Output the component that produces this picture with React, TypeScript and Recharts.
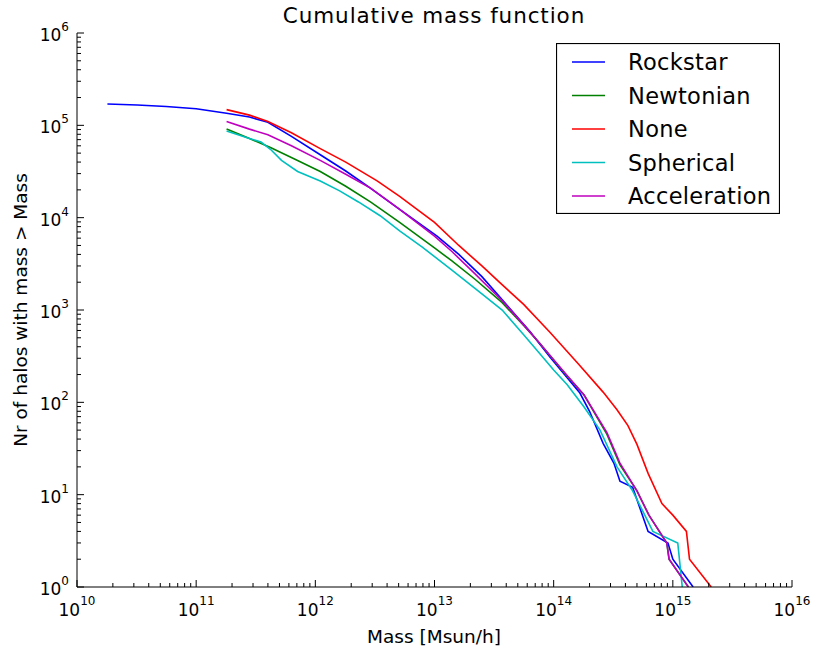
import { LineChart, Line, XAxis, YAxis, Legend } from "recharts";

const FONT = "'DejaVu Sans', sans-serif";

// axis decades (major ticks), minor ticks are 2..9 times each decade
const xDecades = [1e10, 1e11, 1e12, 1e13, 1e14, 1e15, 1e16];
const yDecades = [1, 10, 100, 1000, 10000, 100000, 1000000];
const minorSteps = [2, 3, 4, 5, 6, 7, 8, 9];

// Rockstar
const rockstarMass = [1.8e10, 3.2e10, 5.6e10, 1.0e11, 1.8e11, 2.8e11, 4.0e11, 6.3e11, 1.1e12, 1.8e12, 2.9e12, 5.1e12, 1.05e13, 1.6e13, 2.5e13, 3.7e13, 6.3e13, 9.3e13, 1.66e14, 2.0e14, 2.6e14, 3.2e14, 3.6e14, 4.6e14, 6.2e14, 9.1e14, 1.0e15, 1.48e15];
const rockstarCount = [170000, 166000, 160000, 151000, 135000, 123000, 108000, 76000, 48000, 32000, 20900, 12300, 6300, 4000, 2300, 1290, 590, 310, 126, 80, 36, 22, 14, 12, 4, 3, 2, 1];

// Newtonian
const newtonianMass = [1.8e11, 2.8e11, 4.2e11, 7.1e11, 1.1e12, 1.8e12, 2.9e12, 5.1e12, 1.0e13, 1.4e13, 2.2e13, 3.7e13, 5.6e13, 7.6e13, 1.26e14, 1.8e14, 2.8e14, 3.6e14, 5.0e14, 6.3e14, 8.9e14, 9.3e14, 1.35e15];
const newtonianCount = [91000, 72000, 57500, 41700, 31600, 21900, 14800, 8900, 4700, 3400, 2140, 1200, 680, 440, 200, 120, 45, 21, 11, 6, 3, 2, 1];

// None
const noneMass = [1.8e11, 2.8e11, 4.0e11, 6.3e11, 1.1e12, 1.8e12, 3.3e12, 5.1e12, 1.0e13, 1.6e13, 2.5e13, 3.5e13, 5.6e13, 9.3e13, 1.6e14, 2.6e14, 3.4e14, 4.2e14, 5.0e14, 6.2e14, 8.1e14, 1.0e15, 1.3e15, 1.38e15, 2.1e15];
const noneCount = [148000, 129000, 110000, 83000, 56000, 40000, 25000, 17000, 8900, 5000, 3000, 2000, 1150, 575, 263, 129, 83, 56, 35, 17, 8, 6, 4, 2, 1];

// Spherical
const sphericalMass = [1.8e11, 2.8e11, 3.5e11, 4.2e11, 5.2e11, 7.1e11, 1.1e12, 1.6e12, 2.3e12, 3.5e12, 5.1e12, 7.9e12, 1.4e13, 2.2e13, 3.7e13, 5.6e13, 7.6e13, 1.0e14, 1.3e14, 1.8e14, 2.45e14, 3.4e14, 4.6e14, 6.8e14, 1.1e15, 1.2e15];
const sphericalCount = [87000, 72000, 66000, 55000, 41700, 31600, 25000, 19500, 14800, 10500, 7200, 4800, 2700, 1700, 1000, 540, 340, 224, 155, 89, 50, 20, 11, 4, 3, 1];

// Acceleration
const accelerationMass = [1.8e11, 2.8e11, 4.0e11, 6.3e11, 1.1e12, 1.8e12, 2.9e12, 5.1e12, 1.0e13, 1.4e13, 2.2e13, 3.7e13, 5.6e13, 7.6e13, 1.26e14, 1.8e14, 2.8e14, 3.6e14, 5.0e14, 6.3e14, 8.9e14, 9.3e14, 1.35e15];
const accelerationCount = [110000, 91000, 79000, 60000, 41700, 29500, 20900, 12300, 6300, 4300, 2450, 1260, 690, 440, 204, 120, 47, 22, 11, 6, 3, 2, 1];

const toPoints = (mass: number[], count: number[]) =>
  mass.map((m, i) => ({ mass: m, count: count[i] }));

const series = [
  { name: "Rockstar", color: "#0000ff", data: toPoints(rockstarMass, rockstarCount) },
  { name: "Newtonian", color: "#008000", data: toPoints(newtonianMass, newtonianCount) },
  { name: "None", color: "#ff0000", data: toPoints(noneMass, noneCount) },
  { name: "Spherical", color: "#00bfbf", data: toPoints(sphericalMass, sphericalCount) },
  { name: "Acceleration", color: "#bf00bf", data: toPoints(accelerationMass, accelerationCount) },
];

const withMinor = (decades: number[]) => {
  const out: number[] = [];
  decades.forEach((d, i) => {
    out.push(d);
    if (i < decades.length - 1) minorSteps.forEach((k) => out.push(d * k));
  });
  return out;
};

const xTicks = withMinor(xDecades);
const yTicks = withMinor(yDecades);

const isMajor = (v: number) => {
  const l = Math.log10(v);
  return Math.abs(l - Math.round(l)) < 1e-9;
};
const expOf = (v: number) => Math.round(Math.log10(v));

const BottomTick = ({ x, y, payload }: any) => {
  const major = isMajor(payload.value);
  return (
    <g>
      <line x1={x} x2={x} y1={y} y2={y - (major ? 7 : 4)} stroke="#000" />
      {major && (
        <text x={x} y={y + 29} textAnchor="middle" fontSize={17} fontFamily={FONT} fill="#000">
          10<tspan dy={-11} fontSize={12}>{expOf(payload.value)}</tspan>
        </text>
      )}
    </g>
  );
};

const TopTick = ({ x, y, payload }: any) => {
  const major = isMajor(payload.value);
  return <line x1={x} x2={x} y1={y} y2={y + (major ? 7 : 4)} stroke="#000" />;
};

const LeftTick = ({ x, y, payload }: any) => {
  const major = isMajor(payload.value);
  return (
    <g>
      <line x1={x} x2={x + (major ? 7 : 4)} y1={y} y2={y} stroke="#000" />
      {major && (
        <text x={x - 8} y={y + 8} textAnchor="end" fontSize={17} fontFamily={FONT} fill="#000">
          10<tspan dy={-10} fontSize={12}>{expOf(payload.value)}</tspan>
        </text>
      )}
    </g>
  );
};

const RightTick = ({ x, y, payload }: any) => {
  const major = isMajor(payload.value);
  return <line x1={x} x2={x - (major ? 7 : 4)} y1={y} y2={y} stroke="#000" />;
};

const LegendBox = () => (
  <svg width={224} height={171} style={{ display: "block" }}>
    <rect x={0.5} y={0.5} width={223} height={170} fill="#fff" stroke="#000" strokeWidth={1.2} />
    {series.map((s, i) => {
      const cy = 19 + i * 33.5;
      return (
        <g key={s.name}>
          <line x1={16} x2={49} y1={cy} y2={cy} stroke={s.color} strokeWidth={1.6} />
          <text x={72} y={cy + 8} fontSize={22.5} letterSpacing={0.3} fontFamily={FONT} fill="#000">
            {s.name}
          </text>
        </g>
      );
    })}
  </svg>
);

export default function App() {
  return (
    <div style={{ position: "absolute", left: 0, top: 0, width: 817, height: 652, background: "#fff" }}>
      <LineChart width={817} height={652} margin={{ top: 33, right: 25, bottom: 0, left: 0 }}>
        <XAxis
          xAxisId="b"
          type="number"
          dataKey="mass"
          scale="log"
          domain={[1e10, 1e16]}
          allowDataOverflow
          ticks={xTicks}
          interval={0}
          tickLine={false}
          tickSize={0}
          tickMargin={0}
          height={65}
          stroke="#000"
          tick={(p: any) => <BottomTick {...p} />}
        />
        <XAxis
          xAxisId="t"
          orientation="top"
          type="number"
          dataKey="mass"
          scale="log"
          domain={[1e10, 1e16]}
          allowDataOverflow
          ticks={xTicks}
          interval={0}
          tickLine={false}
          tickSize={0}
          tickMargin={0}
          height={0}
          stroke="#000"
          tick={(p: any) => <TopTick {...p} />}
        />
        <YAxis
          yAxisId="l"
          type="number"
          scale="log"
          domain={[1, 1e6]}
          allowDataOverflow
          ticks={yTicks}
          interval={0}
          tickLine={false}
          tickSize={0}
          tickMargin={0}
          width={77}
          stroke="#000"
          tick={(p: any) => <LeftTick {...p} />}
        />
        <YAxis
          yAxisId="r"
          orientation="right"
          type="number"
          scale="log"
          domain={[1, 1e6]}
          allowDataOverflow
          ticks={yTicks}
          interval={0}
          tickLine={false}
          tickSize={0}
          tickMargin={0}
          width={0}
          stroke="#000"
          tick={(p: any) => <RightTick {...p} />}
        />
        <Legend
          layout="vertical"
          align="center"
          verticalAlign="middle"
          content={() => <LegendBox />}
          wrapperStyle={{ left: 556, top: 43, width: 224, height: 171 }}
        />
        {series.map((s) => (
          <Line
            key={s.name}
            xAxisId="b"
            yAxisId="l"
            data={s.data}
            dataKey="count"
            name={s.name}
            type="linear"
            stroke={s.color}
            strokeWidth={1.6}
            dot={false}
            isAnimationActive={false}
          />
        ))}
      </LineChart>
      <svg
        width={817}
        height={652}
        style={{ position: "absolute", left: 0, top: 0, pointerEvents: "none" }}
      >
        <text x={434} y={23} textAnchor="middle" fontSize={21.5} letterSpacing={0.9} fontFamily={FONT} fill="#000">
          Cumulative mass function
        </text>
        <text x={434} y={643} textAnchor="middle" fontSize={18.5} fontFamily={FONT} fill="#000">
          Mass [Msun/h]
        </text>
        <text
          x={27}
          y={310}
          textAnchor="middle"
          fontSize={18.5}
          fontFamily={FONT}
          fill="#000"
          transform="rotate(-90 27 310)"
        >
          Nr of halos with mass &gt; Mass
        </text>
      </svg>
    </div>
  );
}
